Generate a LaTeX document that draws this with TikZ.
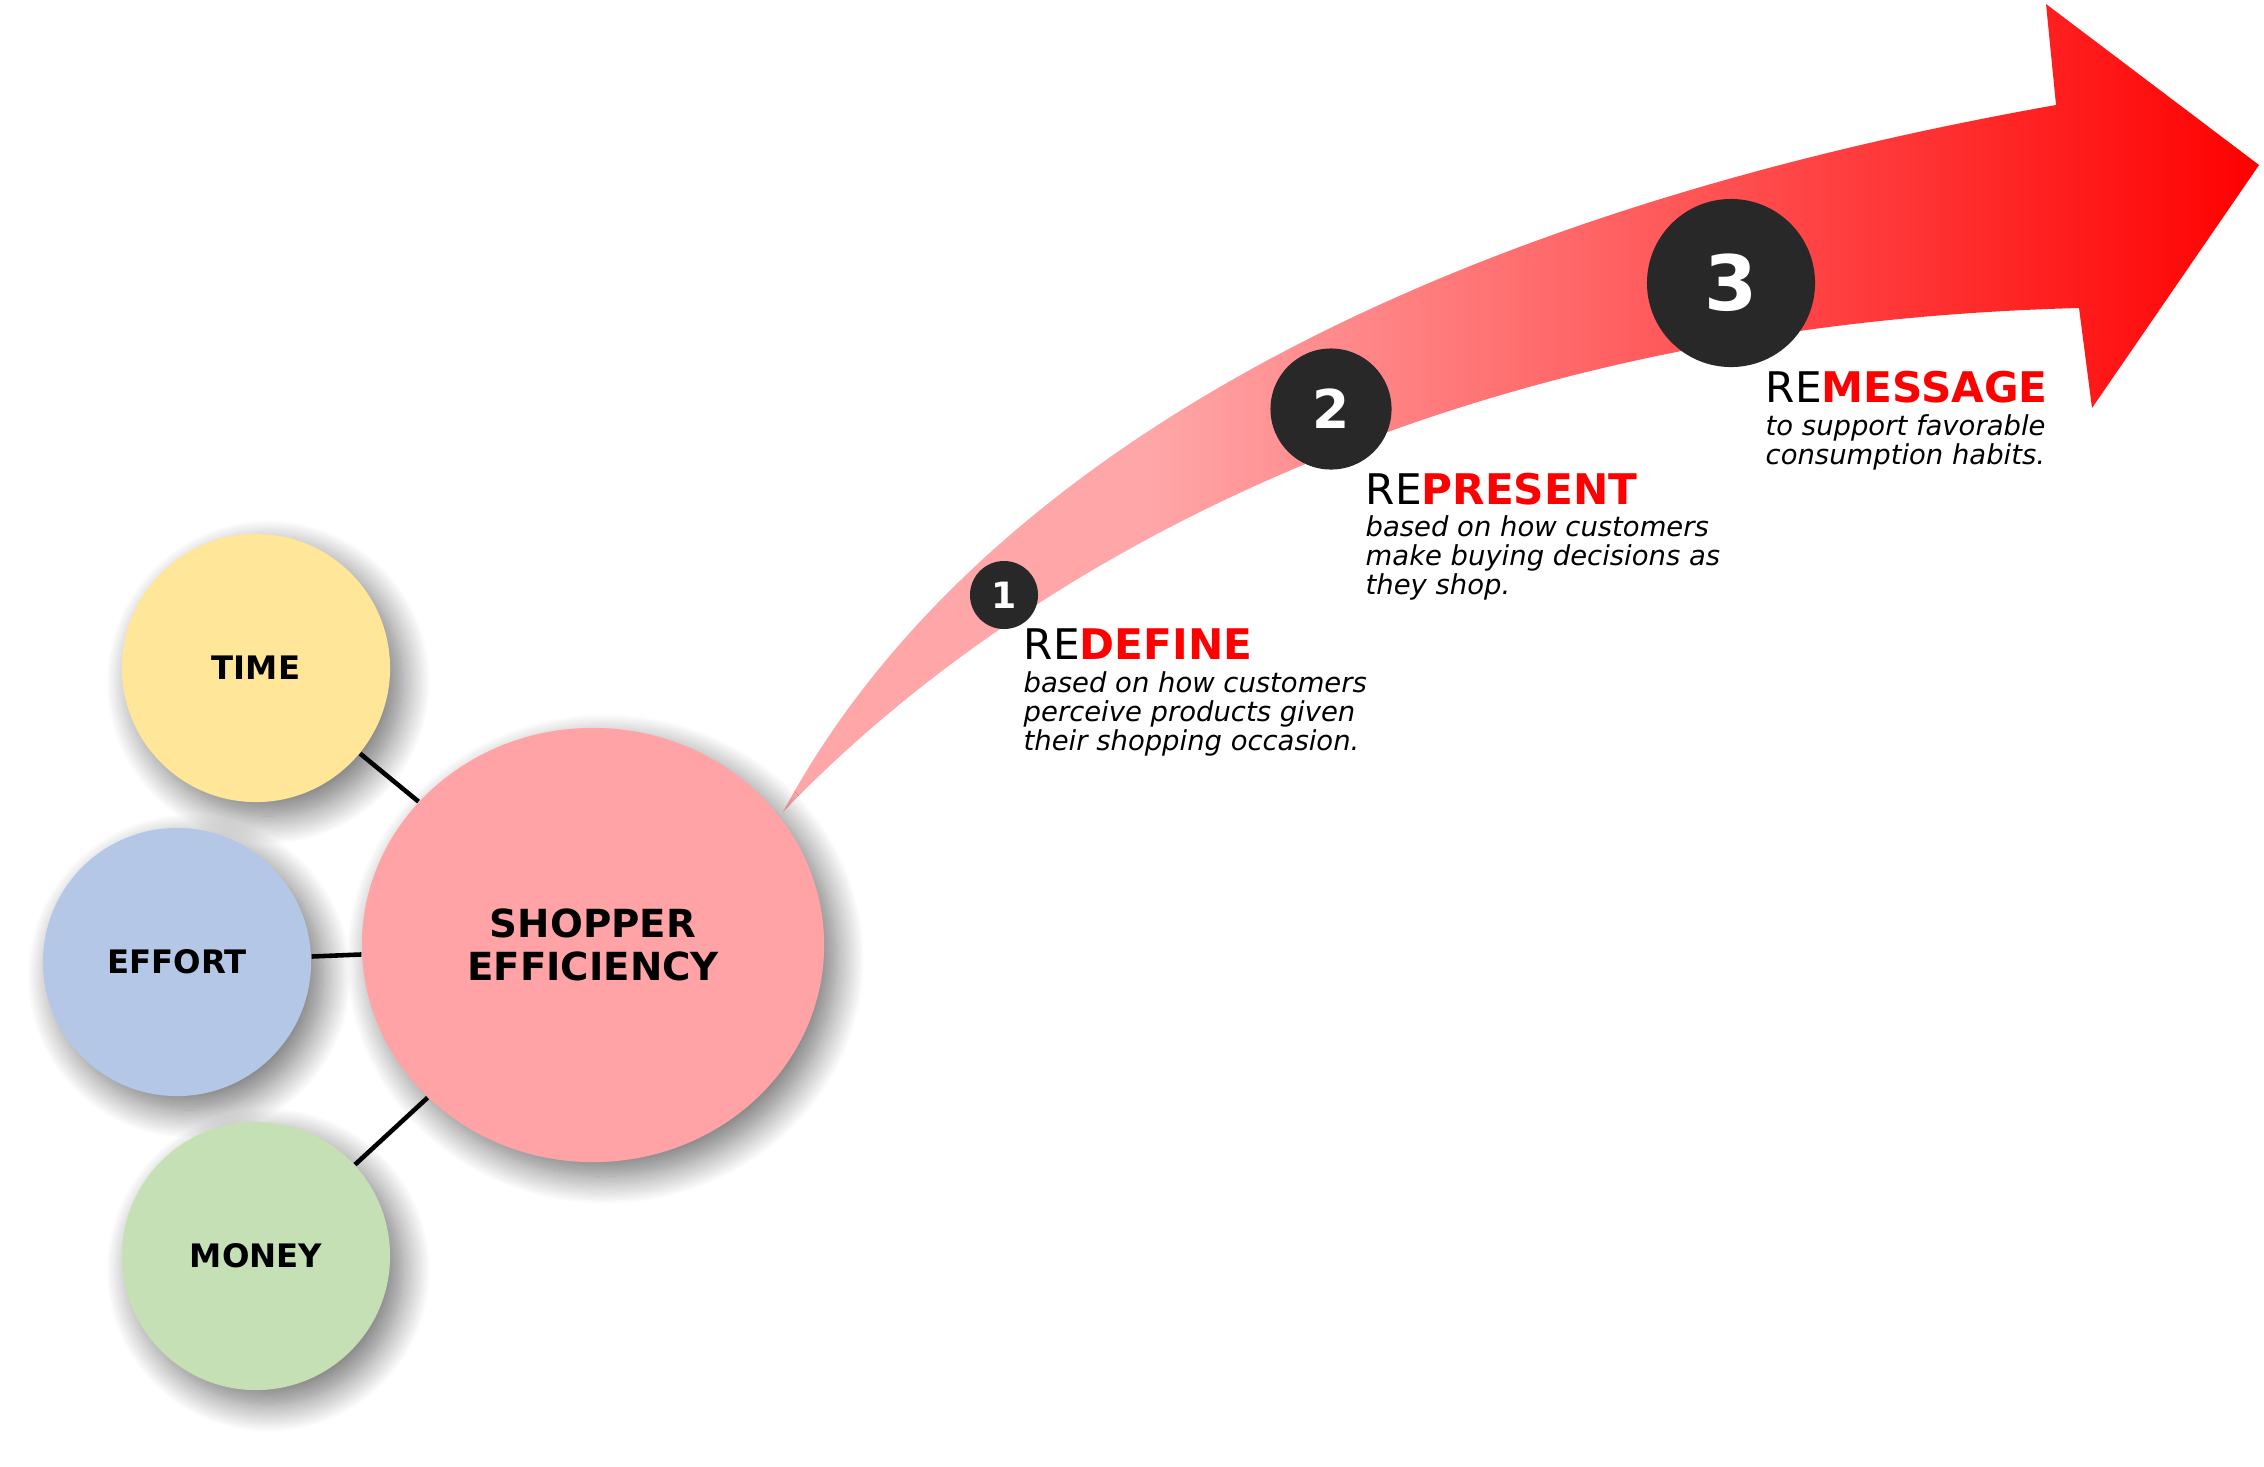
\documentclass[tikz,border=0pt]{standalone}
\usepackage{fontspec}
\setmainfont{DejaVu Sans}
\usetikzlibrary{shapes.geometric,shadows.blur}
\definecolor{pinkc}{HTML}{FFA3A6}
\definecolor{arrowpink}{HTML}{FFA6A8}
\definecolor{timec}{HTML}{FFE699}
\definecolor{effortc}{HTML}{B4C7E7}
\definecolor{moneyc}{HTML}{C5E0B4}
\definecolor{darkc}{HTML}{282828}
\definecolor{redc}{HTML}{FF0000}
\pgfdeclarehorizontalshading{arrowshade}{100bp}{color(0bp)=(arrowpink); color(37.4bp)=(arrowpink); color(75bp)=(redc); color(100bp)=(redc)}
\newcommand{\desctext}[1]{{\fontsize{7.8}{8.17}\selectfont\itshape\begin{tabular}[t]{@{}l@{}}#1\end{tabular}}}
\begin{document}
\begin{tikzpicture}[x=0.01cm,y=-0.01cm,
  softshadow/.style={blur shadow={shadow xshift=3.5pt,shadow yshift=-4pt,shadow blur radius=8pt,shadow blur steps=25,shadow opacity=55}},
  bubble/.style={circle, inner sep=0pt, minimum size=2.68cm, font=\fontsize{9.2}{11}\selectfont\bfseries, softshadow},
  numc/.style={circle, fill=darkc, text=white, inner sep=0pt},
  title/.style={anchor=base west, inner sep=0pt, font=\fontsize{12}{14}\selectfont},
  desc/.style={anchor=base west, inner sep=0pt},
  link/.style={line width=1.3pt, black}]
\useasboundingbox (0,0) rectangle (2264,1466);
% arrow
\shade[shading=arrowshade] (783,812) .. controls (950,500) and (1350,230) .. (2056,105)
  -- (2046,4) -- (2259,165) -- (2092,408) -- (2079,308)
  .. controls (1420,325) and (1000,585) .. (783,812) -- cycle;
% bubbles
\node[bubble, fill=timec] (time) at (256,668) {TIME};
\node[bubble, fill=effortc] (effort) at (177,962) {EFFORT};
\node[bubble, fill=moneyc] (money) at (256,1256) {MONEY};
\node[ellipse, fill=pinkc, minimum width=4.62cm, minimum height=4.34cm, inner sep=0pt, align=center,
  font=\fontsize{11}{12.3}\selectfont\bfseries, softshadow] (shopper) at (593,945) {SHOPPER\\EFFICIENCY};
\draw[link] (time) -- (shopper);
\draw[link] (effort) -- (shopper);
\draw[link] (money) -- (shopper);
% numbers
\node[numc, minimum size=0.68cm, font=\fontsize{10.3}{12}\selectfont\bfseries] (n1) at (1004,595) {1};
\node[numc, minimum size=1.21cm, font=\fontsize{15.2}{18}\selectfont\bfseries] (n2) at (1331,409) {2};
\node[numc, minimum size=1.68cm, font=\fontsize{21.7}{26}\selectfont\bfseries] (n3) at (1731,283) {3};
% texts
\node[title] (r1) at (1023,659) {RE\textbf{\color{redc}DEFINE}};
\node[desc] (d1) at (1023,692) {\desctext{based on how customers\\perceive products given\\their shopping occasion.}};
\node[title] (r2) at (1365,504) {RE\textbf{\color{redc}PRESENT}};
\node[desc] (d2) at (1365,536) {\desctext{based on how customers\\make buying decisions as\\they shop.}};
\node[title] (r3) at (1765,402) {RE\textbf{\color{redc}MESSAGE}};
\node[desc] (d3) at (1765,435) {\desctext{to support favorable\\consumption habits.}};
\end{tikzpicture}
\end{document}
